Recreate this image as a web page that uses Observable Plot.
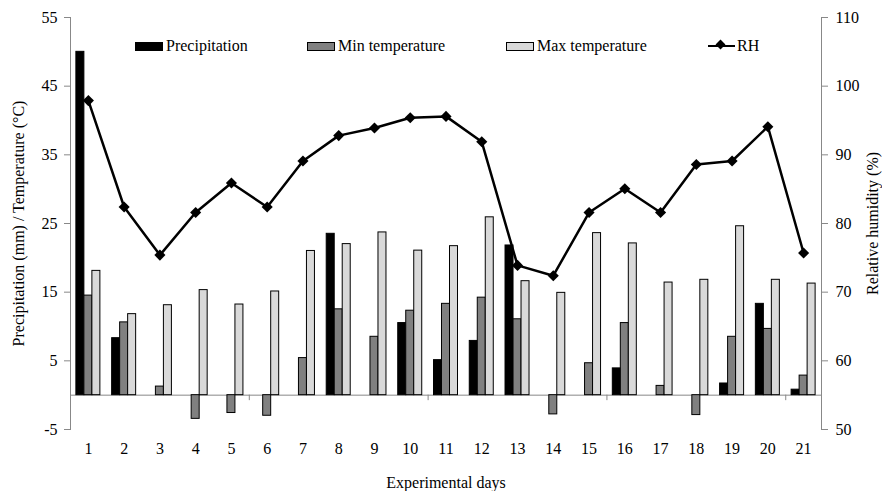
<!DOCTYPE html>
<html><head><meta charset="utf-8">
<script src="https://cdn.jsdelivr.net/npm/d3@7"></script>
<script src="https://cdn.jsdelivr.net/npm/@observablehq/plot@0.6"></script>
<style>
body{margin:0;background:#fff;}
#wrap{position:relative;width:882px;height:491px;font-family:"Liberation Serif",Tinos,"DejaVu Serif",serif;color:#000;}
.leg{position:absolute;top:36px;height:20px;font-size:16px;display:flex;align-items:center;white-space:nowrap;}
.sw{width:26px;height:7px;border:1px solid #000;margin-right:3px;}
.ln{position:relative;width:27px;height:2.5px;background:#000;margin-right:2px;}
.ln::after{content:"";position:absolute;left:9px;top:-3.5px;width:7px;height:7px;background:#000;transform:rotate(45deg);}
</style></head>
<body><div id="wrap"></div>
<script>
const days = [1,2,3,4,5,6,7,8,9,10,11,12,13,14,15,16,17,18,19,20,21];
const precipitation = [50,8.3,0,0,0,0,0,23.5,0,10.5,5.1,7.9,21.8,0,0,3.9,0,0,1.7,13.3,0.8];
const minTemperature = [14.5,10.6,1.25,-3.45,-2.6,-3.0,5.4,12.5,8.5,12.3,13.3,14.2,11.05,-2.8,4.65,10.5,1.35,-2.9,8.5,9.65,2.85];
const maxTemperature = [18.1,11.8,13.1,15.3,13.2,15.1,21.0,22.0,23.7,21.05,21.7,25.9,16.6,14.9,23.6,22.1,16.4,16.8,24.6,16.8,16.25];
const relativeHumidity = [97.9,82.4,75.4,81.6,85.9,82.4,89.1,92.8,93.9,95.4,95.6,91.9,73.9,72.4,81.6,85.05,81.6,88.6,89.1,94.1,75.7];
const leftTicks = [-5,5,15,25,35,45,55];
const boundaryDays = [6,11,16,21];

const rows = days.map((d,i) => ({day:d, p:precipitation[i], tmin:minTemperature[i], tmax:maxTemperature[i], rh:relativeHumidity[i]}));

const W = 882, H = 491, mL = 70, mR = 61, mT = 17, mB = 62;
const bw = (W - mL - mR) / days.length;
const barW = 8;
const inset = (bw - barW) / 2;
const gray = "#888";
const font = '"Liberation Serif",Tinos,"DejaVu Serif",serif';

const plot = Plot.plot({
  width: W, height: H,
  marginLeft: mL, marginRight: mR, marginTop: mT, marginBottom: mB,
  style: {fontFamily: font, fontSize: "16px", background: "#fff", color: "#000"},
  x: {type: "band", domain: days, padding: 0, round: false, axis: null},
  y: {domain: [-5, 55], axis: null},
  marks: [
    Plot.frame({anchor: "left", stroke: gray}),
    Plot.frame({anchor: "right", stroke: gray}),
    Plot.axisY({anchor: "left", ticks: leftTicks, tickSize: 6, tickFormat: () => "", stroke: gray, label: null}),
    Plot.axisY({anchor: "left", ticks: leftTicks, tickSize: 0, tickPadding: 13, tickFormat: d => String(d), label: null}),
    Plot.axisY({anchor: "right", ticks: leftTicks, tickSize: 6, tickFormat: () => "", stroke: gray, label: null}),
    Plot.axisY({anchor: "right", ticks: leftTicks, tickSize: 0, tickPadding: 14, tickFormat: d => String(d + 55), label: null}),
    Plot.axisX({anchor: "bottom", tickSize: 0, tickPadding: 13, label: null}),
    Plot.ruleY([0], {stroke: gray, strokeWidth: 1}),
    Plot.ruleX(boundaryDays, {x: d => d, y1: 0, y2: -0.8, dx: -bw/2, stroke: gray}),
    Plot.barY(rows, {x: "day", y: "p", fill: "#000", stroke: "#000", strokeWidth: 1, insetLeft: inset, insetRight: inset, dx: -barW}),
    Plot.barY(rows, {x: "day", y: "tmin", fill: "#808080", stroke: "#000", strokeWidth: 1, insetLeft: inset, insetRight: inset, dx: 0}),
    Plot.barY(rows, {x: "day", y: "tmax", fill: "#d9d9d9", stroke: "#000", strokeWidth: 1, insetLeft: inset, insetRight: inset, dx: barW}),
    Plot.line(rows, {x: "day", y: d => d.rh - 55, stroke: "#000", strokeWidth: 2.5}),
    Plot.dot(rows, {x: "day", y: d => d.rh - 55, symbol: "diamond2", r: 5, fill: "#000", stroke: "none"}),
    Plot.text(["Precipitation (mm) / Temperature (°C)"], {frameAnchor: "left", textAnchor: "middle", lineAnchor: "middle", dx: -52, rotate: -90, fontSize: 16}),
    Plot.text(["Relative humidity (%)"], {frameAnchor: "right", textAnchor: "middle", lineAnchor: "middle", dx: 51, rotate: -90, fontSize: 16}),
    Plot.text(["Experimental days"], {frameAnchor: "bottom", textAnchor: "middle", lineAnchor: "middle", dy: 53, fontSize: 16})
  ]
});

const wrap = document.getElementById("wrap");
wrap.appendChild(plot);
const legendItems = [
  {label: "Precipitation", fill: "#000", left: 135},
  {label: "Min temperature", fill: "#808080", left: 307},
  {label: "Max temperature", fill: "#d9d9d9", left: 506},
  {label: "RH", line: true, left: 708}
];
for (const it of legendItems) {
  const el = document.createElement("div");
  el.className = "leg";
  el.style.left = it.left + "px";
  const sw = document.createElement("span");
  if (it.line) sw.className = "ln"; else { sw.className = "sw"; sw.style.background = it.fill; }
  el.appendChild(sw);
  el.appendChild(document.createTextNode(it.label));
  wrap.appendChild(el);
}
</script>
</body></html>
